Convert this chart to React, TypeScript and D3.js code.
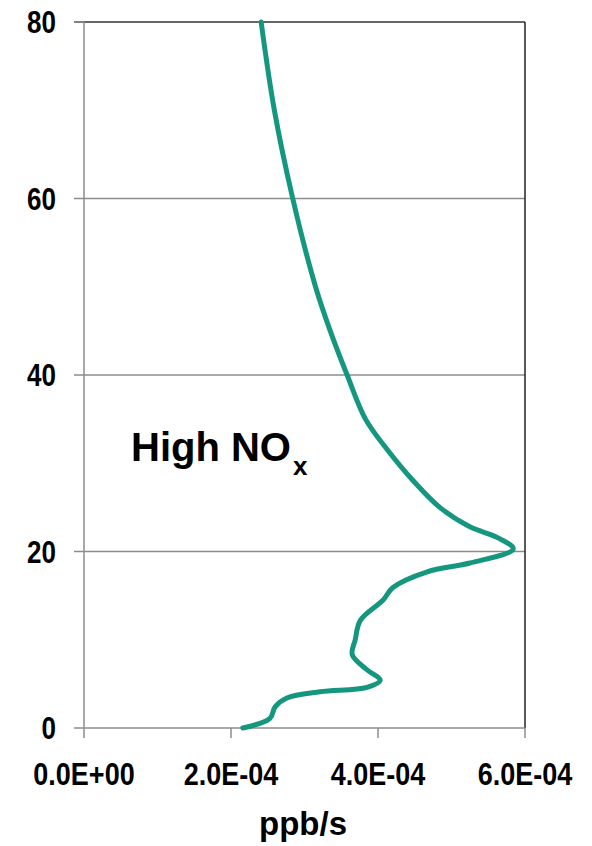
import * as d3 from "d3";

// altitude (y) and rate (x, ppb/s)
const altitude = [
  80, 70, 60, 50, 45, 40, 35, 31.5, 28.1, 25, 22.8, 21.6, 20.3, 18.7, 17.7,
  15.9, 14.5, 12.2, 10, 8.3, 6.6, 5.4, 4.6, 4.1, 3.4, 2.4, 1.1, 0,
];
const rate = [
  2.41e-4, 2.59e-4, 2.84e-4, 3.15e-4, 3.35e-4, 3.58e-4, 3.83e-4, 4.13e-4,
  4.47e-4, 4.84e-4, 5.25e-4, 5.62e-4, 5.84e-4, 5.25e-4, 4.67e-4, 4.2e-4,
  4.07e-4, 3.76e-4, 3.69e-4, 3.65e-4, 3.85e-4, 4.03e-4, 3.85e-4, 3.21e-4,
  2.76e-4, 2.6e-4, 2.53e-4, 2.16e-4,
];
const xTicks = [0, 2e-4, 4e-4, 6e-4];
const xTickLabels = ["0.0E+00", "2.0E-04", "4.0E-04", "6.0E-04"];
const yTicks = [0, 20, 40, 60, 80];

const W = 592;
const H = 846;
const left = 84;
const right = 525;
const top = 22;
const bottom = 728;
const font = "Liberation Sans, Arial, sans-serif";

export default function App() {
  const x = d3.scaleLinear().domain([0, 6e-4]).range([left, right]);
  const y = d3.scaleLinear().domain([0, 80]).range([bottom, top]);

  const pts = altitude.map((a, i) => [rate[i], a] as [number, number]);
  const line = d3
    .line<[number, number]>()
    .x((d) => x(d[0]))
    .y((d) => y(d[1]))
    .curve(d3.curveCatmullRom.alpha(0.5));

  return (
    <svg
      width={W}
      height={H}
      style={{ position: "absolute", left: 0, top: 0, background: "#fff" }}
    >
      {/* gridlines */}
      {yTicks
        .filter((t) => t > 0 && t < 80)
        .map((t) => (
          <line
            key={t}
            x1={left}
            x2={right}
            y1={y(t)}
            y2={y(t)}
            stroke="#8c8c8c"
            strokeWidth={1.5}
          />
        ))}
      {/* plot border top/right */}
      <line x1={left - 10} x2={right} y1={top} y2={top} stroke="#333" strokeWidth={1.5} />
      <line x1={right} x2={right} y1={top} y2={bottom} stroke="#222" strokeWidth={1.5} />
      {/* y axis */}
      <line x1={left} x2={left} y1={top} y2={bottom} stroke="#8c8c8c" strokeWidth={1.5} />
      {yTicks.map((t) => (
        <g key={t}>
          <line x1={left - 10} x2={left} y1={y(t)} y2={y(t)} stroke="#8c8c8c" strokeWidth={1.5} />
          <text
            transform={`translate(56,${y(t) + 11}) scale(1,1.2)`}
            textAnchor="end"
            fontFamily={font}
            fontWeight="bold"
            fontSize={26}
            fill="#000"
          >
            {t}
          </text>
        </g>
      ))}
      {/* x axis */}
      <line x1={left} x2={right} y1={bottom} y2={bottom} stroke="#8c8c8c" strokeWidth={1.5} />
      {xTicks.map((t, i) => (
        <g key={t}>
          <line x1={x(t)} x2={x(t)} y1={bottom} y2={bottom + 10} stroke="#8c8c8c" strokeWidth={1.5} />
          <text
            transform={`translate(${x(t)},785) scale(1,1.17)`}
            textAnchor="middle"
            fontFamily={font}
            fontWeight="bold"
            fontSize={27}
            fill="#000"
          >
            {xTickLabels[i]}
          </text>
        </g>
      ))}
      <text
        x={303}
        y={835}
        textAnchor="middle"
        fontFamily={font}
        fontWeight="bold"
        fontSize={33}
        fill="#000"
      >
        ppb/s
      </text>
      {/* series */}
      <path
        d={line(pts) ?? ""}
        fill="none"
        stroke="#15977f"
        strokeWidth={5}
        strokeLinejoin="round"
        strokeLinecap="round"
      />
      <text x={131} y={461} fontFamily={font} fontWeight="bold" fontSize={40} fill="#000">
        High NO
        <tspan fontSize={26} dy={14} dx={2}>
          x
        </tspan>
      </text>
    </svg>
  );
}
